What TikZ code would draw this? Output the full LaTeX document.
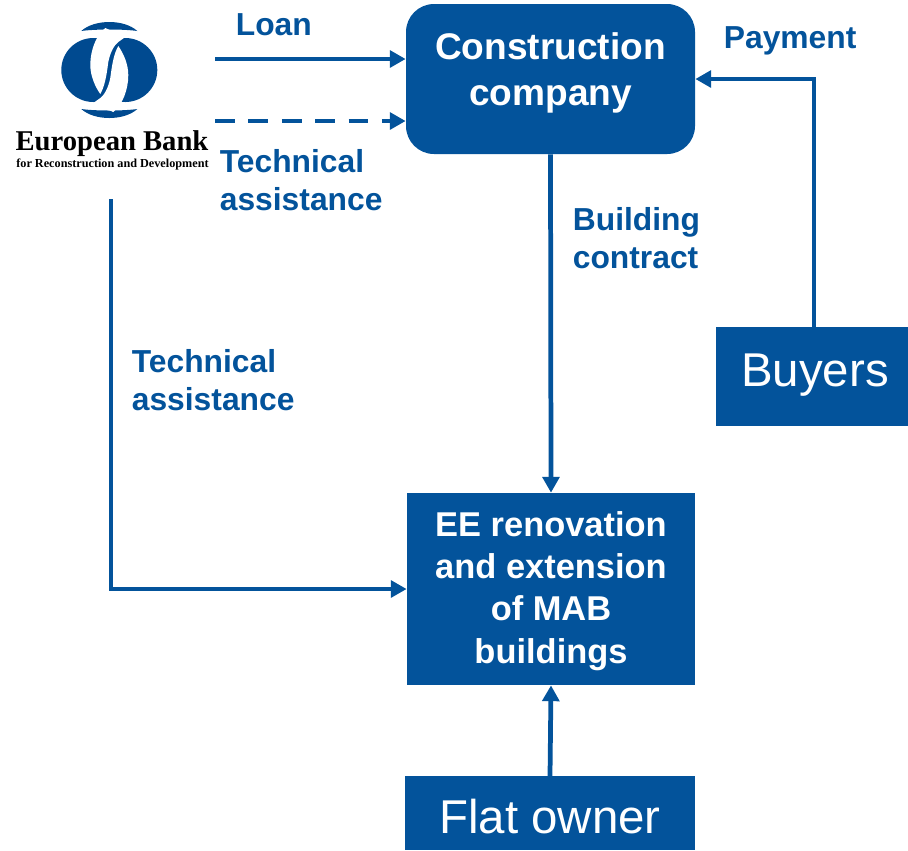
\documentclass[tikz,border=0pt]{standalone}
\usepackage{fontspec}
\setmainfont{Liberation Sans}
\newfontfamily\logofont{Liberation Serif}
\usetikzlibrary{arrows.meta}
\definecolor{ebrd-blue}{HTML}{03539B}
\definecolor{logo-blue}{HTML}{004A90}
\tikzset{
  box/.style 2 args={
    rectangle,
    fill=ebrd-blue,
    text=white,
    align=center,
    inner sep=0pt,
    minimum width=#1*0.02cm,
    minimum height=#2*0.02cm},
  relation-path/.style={line width=2.7pt, draw=ebrd-blue, -{Triangle[length=9pt,width=9.5pt]}},
  relation-type/.style={anchor=west, align=left, inner sep=0pt, text=ebrd-blue,
    font=\fontsize{18.1}{21.5}\bfseries\selectfont},
  big-text/.style={font=\fontsize{27}{32}\selectfont},
}
\begin{document}
\begin{tikzpicture}[x=0.02cm, y=-0.02cm]
\useasboundingbox (0,0) rectangle (908,850);
% logo
\foreach \turn in {0,180} {
  \begin{scope}[shift={(109.3,70)}, rotate=\turn]
    \fill[logo-blue] (-28,-39) .. controls (-15,-51) and (15,-51) .. (28,-39)
      .. controls (15,-41) and (-15,-41) .. cycle;
    \fill[logo-blue] (-16,0) circle (32);
  \end{scope}
}
\foreach \turn in {0,180} {
  \begin{scope}[shift={(109.3,70)}, rotate=\turn]
    \fill[white] (-4,-42) .. controls (-13,-35) and (-19,-20) .. (-19,-5)
      .. controls (-19,6) and (-14,17) .. (-9,24)
      .. controls (-5,17) and (-3,8) .. (-1,-8)
      .. controls (1,-18) and (5,-25) .. (9,-28) -- (16,-33) -- cycle;
  \end{scope}
}
\node[inner sep=0pt, font=\fontsize{16.3}{18}\logofont\bfseries\selectfont] (logo-name) at (112,143.5) {European Bank};
\node[inner sep=0pt, font=\fontsize{6.95}{8}\logofont\bfseries\selectfont] (logo-sub) at (112.5,164) {for Reconstruction and Development};
% boxes
\node[box={289}{150}, rounded corners=0.56cm, font=\fontsize{21.1}{26}\bfseries\selectfont] (construction) at (550.5,79) {Construction\\company\\[-14.7pt]\mbox{}};
\node[box={288}{192}, font=\fontsize{19.6}{24}\bfseries\selectfont] (renovation) at (551,589) {\rule{0pt}{16.4pt}EE renovation\\and extension\\of MAB\\buildings};
\node[box={192}{99}, big-text, anchor=north, text height=33.7pt, text depth=22.4pt] (buyers) at (812,327) {\hspace{3.4pt}Buyers};
\node[box={290}{74}, big-text, anchor=north, text height=32.6pt, text depth=9.4pt] (owner) at (550,776) {Flat owner};
% start points
\coordinate (loan-start) at (215,59);
\coordinate (help-start) at (215,121);
\coordinate (side-start) at (111,199);
\coordinate (payment-turn) at (814,79);
% connectors
\draw[relation-path] (loan-start) -- (loan-start -| construction.west);
\draw[relation-path, dash pattern=on 11.3pt off 7.7pt] (help-start) -- (help-start -| construction.west);
\draw[relation-path] (side-start) |- (renovation.west);
\draw[relation-path] (construction.south) -- (renovation.north);
\draw[relation-path] (payment-turn |- buyers.north) -- (payment-turn) -- (construction.east);
\draw[relation-path] (owner.north) -- (renovation.south);
% labels
\node[relation-type] (loan-label) at (235.5,25) {Loan};
\node[relation-type] (help-label) at (219.5,180.5) {Technical\\assistance};
\node[relation-type] (side-label) at (131.5,380.5) {Technical\\assistance};
\node[relation-type] (contract-label) at (572.5,238.5) {Building\\contract};
\node[relation-type] (payment-label) at (723.5,41) {Payment};
\end{tikzpicture}
\end{document}
